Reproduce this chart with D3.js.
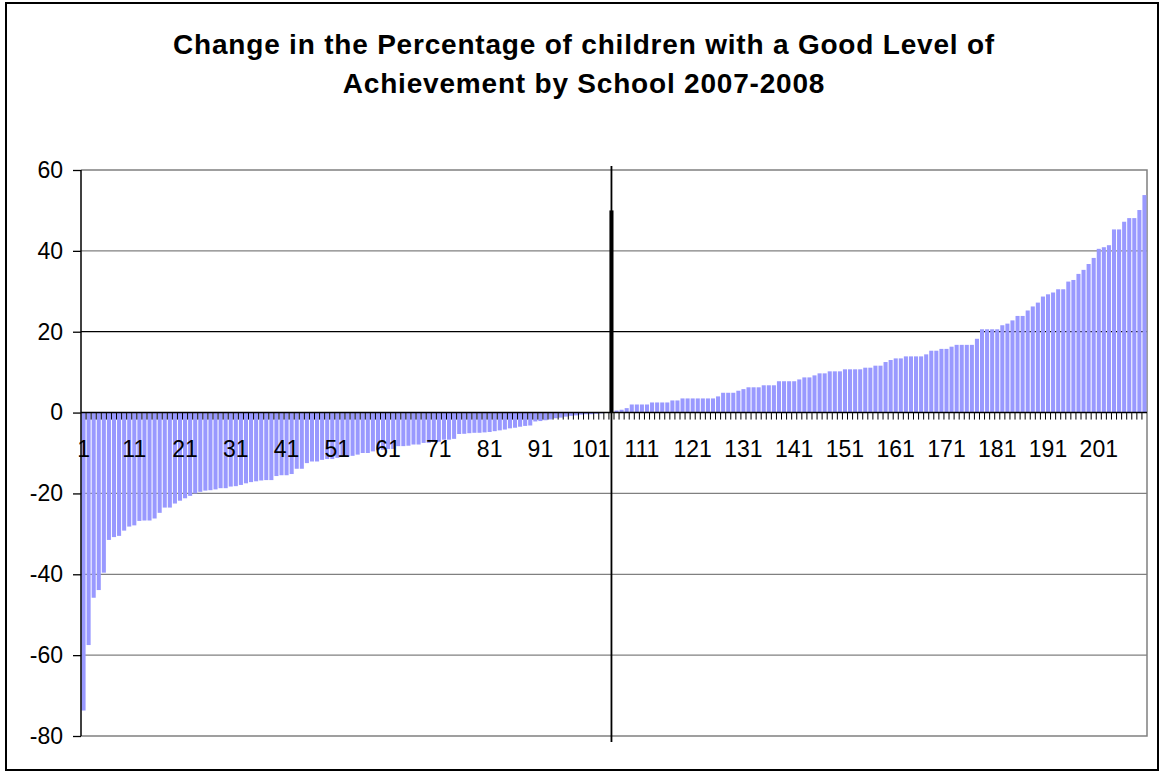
<!DOCTYPE html>
<html>
<head>
<meta charset="utf-8">
<script src="https://cdn.jsdelivr.net/npm/d3@7"></script>
<style>
  html, body { margin: 0; padding: 0; background: #fff; }
  svg { display: block; font-family: "Liberation Sans", Arial, sans-serif; }
</style>
</head>
<body>
<svg id="chart" width="1164" height="775"></svg>
<script>
// Change in % of children with a good level of achievement, one value per school (sorted)
const schoolChange = [
  -73.7, -57.5, -45.8, -43.9, -39.6, -31.5, -30.8, -30.5, -29.2, -28.2,
  -27.9, -26.8, -26.7, -26.7, -26.2, -24.8, -23.5, -23.5, -22.5, -21.8,
  -21.2, -20.6, -20.0, -19.6, -19.3, -19.2, -19.0, -18.7, -18.7, -18.3,
  -18.2, -17.9, -17.5, -17.2, -17.0, -16.8, -16.7, -16.7, -15.7, -15.5,
  -15.5, -15.2, -13.9, -13.9, -12.5, -12.1, -12.1, -11.7, -11.5, -11.5,
  -11.2, -10.8, -10.7, -10.7, -10.4, -10.0, -10.0, -9.6, -9.2, -9.2,
  -9.0, -9.0, -8.3, -8.3, -8.2, -7.9, -7.9, -7.5, -7.5, -7.3,
  -7.2, -6.7, -6.7, -6.5, -5.3, -5.25, -5.1, -5.0, -5.0, -4.9,
  -4.8, -4.6, -4.4, -4.2, -3.9, -3.75, -3.5, -3.3, -3.2, -2.2,
  -2.1, -1.9, -1.7, -1.4, -1.25, -1.0, -0.8, -0.7, -0.5, -0.4,
  -0.4, -0.3, -0.2, -0.1, 0, 0.5, 0.7, 1.1, 2.0, 2.0,
  2.0, 2.0, 2.5, 2.5, 2.5, 2.5, 3.0, 3.0, 3.5, 3.5,
  3.5, 3.5, 3.5, 3.5, 3.5, 4.0, 4.9, 4.9, 4.9, 5.4,
  5.8, 6.25, 6.25, 6.25, 6.75, 6.75, 6.75, 7.75, 7.75, 7.75,
  7.75, 8.2, 8.7, 8.7, 9.2, 9.7, 9.7, 10.2, 10.2, 10.2,
  10.7, 10.7, 10.7, 10.7, 11.1, 11.1, 11.6, 11.6, 12.5, 13.0,
  13.4, 13.4, 13.9, 13.9, 13.9, 13.9, 14.4, 15.3, 15.3, 15.75,
  15.75, 16.3, 16.75, 16.75, 16.75, 16.75, 18.25, 20.6, 20.6, 20.6,
  20.6, 21.6, 22.0, 22.8, 23.9, 23.9, 25.25, 26.25, 27.2, 28.7,
  29.25, 29.7, 30.5, 30.5, 32.4, 32.8, 34.3, 35.3, 36.75, 38.25,
  40.5, 40.9, 41.4, 45.3, 45.3, 47.2, 48.1, 48.1, 50.1, 53.8
];
const schools = schoolChange.map((_, i) => i + 1);

// Divider marker between falling and rising schools
const dividerSchool = 105;
const dividerValue = 50;
const referenceLevel = 20;

const yTicks = [-80, -60, -40, -20, 0, 20, 40, 60];
const xLabelStep = 10;

const titleLines = [
  "Change in the Percentage of children with a Good Level of",
  "Achievement by School 2007-2008"
];

const svg = d3.select("#chart");
const plot = { left: 81, right: 1147, top: 170, bottom: 736 };
const labelFont = "Liberation Sans, Arial, sans-serif";

// outer frame
svg.append("rect")
  .attr("x", 6).attr("y", 3).attr("width", 1152).attr("height", 767)
  .attr("fill", "#fff").attr("stroke", "#000").attr("stroke-width", 2);

// title
svg.append("g").selectAll("text").data(titleLines).join("text")
  .attr("x", 584).attr("y", (d, i) => 54 + i * 39)
  .attr("text-anchor", "middle")
  .attr("font-size", 28).attr("font-weight", "bold")
  .attr("letter-spacing", 0.8).attr("fill", "#000")
  .text(d => d);

const x = d3.scaleBand().domain(schools)
  .range([plot.left, plot.right]).paddingInner(0.2).paddingOuter(0.1);
const y = d3.scaleLinear().domain([-80, 60]).range([plot.bottom, plot.top]);

// gridlines
svg.append("g").selectAll("line").data(yTicks.filter(t => t !== 0 && t !== -80 && t !== 60)).join("line")
  .attr("x1", plot.left).attr("x2", plot.right)
  .attr("y1", d => y(d)).attr("y2", d => y(d))
  .attr("stroke", d => d === referenceLevel ? "#000" : "#808080")
  .attr("stroke-width", 1.3);

// plot area border (top, right, bottom)
svg.append("path")
  .attr("d", `M${plot.left},${y(60)}H${plot.right}V${y(-80)}H${plot.left}`)
  .attr("fill", "none").attr("stroke", "#808080").attr("stroke-width", 1.5);

// bars
svg.append("g").selectAll("rect").data(schools).join("rect")
  .attr("x", d => x(d))
  .attr("width", x.bandwidth())
  .attr("y", d => y(Math.max(0, schoolChange[d - 1])))
  .attr("height", d => Math.abs(y(schoolChange[d - 1]) - y(0)))
  .attr("fill", "#9999FF");

// divider: vertical rule plus black bar
const cx = x(dividerSchool) + x.bandwidth() / 2;
svg.append("line")
  .attr("x1", cx).attr("x2", cx).attr("y1", 166).attr("y2", 742)
  .attr("stroke", "#000").attr("stroke-width", 1.8);
svg.append("rect")
  .attr("x", x(dividerSchool)).attr("width", x.bandwidth())
  .attr("y", y(dividerValue)).attr("height", y(0) - y(dividerValue))
  .attr("fill", "#000");

// x axis at zero: line, ticks between categories, labels every 10th
const gx = svg.append("g").attr("transform", `translate(0,${y(0)})`);
gx.append("line").attr("x1", plot.left).attr("x2", plot.right)
  .attr("stroke", "#000").attr("stroke-width", 1.5);
const step = x.step();
gx.selectAll("line.tick").data(schools.slice(1)).join("line").attr("class", "tick")
  .attr("x1", d => x(d) - step * x.paddingInner() / 2)
  .attr("x2", d => x(d) - step * x.paddingInner() / 2)
  .attr("y1", 0).attr("y2", 7)
  .attr("stroke", "#000").attr("stroke-width", 1);
const xAxis = d3.axisBottom(x)
  .tickValues(schools.filter(d => (d - 1) % xLabelStep === 0))
  .tickSize(0).tickPadding(0);
const gxl = svg.append("g").attr("transform", `translate(0,${y(0)})`).call(xAxis);
gxl.select(".domain").remove();
gxl.selectAll("text")
  .attr("y", 44).attr("dy", 0)
  .attr("font-size", 23).attr("font-family", labelFont).attr("fill", "#000");

// y axis
const yAxis = d3.axisLeft(y).tickValues(yTicks).tickFormat(d => String(d))
  .tickSize(8).tickPadding(10);
const gy = svg.append("g").attr("transform", `translate(${plot.left},0)`).call(yAxis);
gy.select(".domain").attr("stroke", "#000").attr("stroke-width", 1.5)
  .attr("d", `M0,${plot.top}V${plot.bottom}`);
gy.selectAll(".tick line").attr("stroke", "#000").attr("stroke-width", 1.3);
gy.selectAll("text")
  .attr("font-size", 23).attr("font-family", labelFont).attr("fill", "#000");
</script>
</body>
</html>
